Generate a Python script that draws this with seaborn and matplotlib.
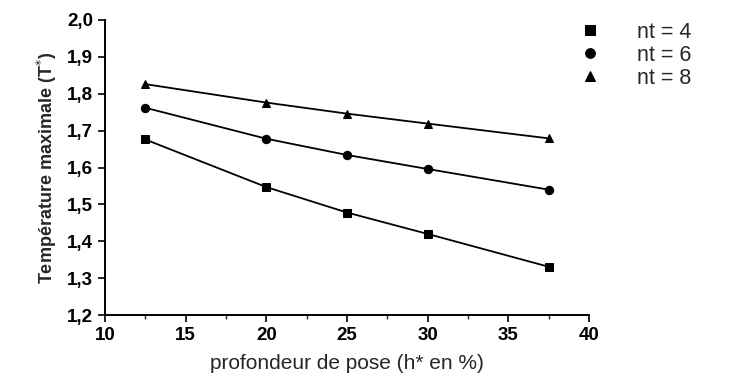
import matplotlib
matplotlib.use("Agg")
import matplotlib.pyplot as plt
from matplotlib.ticker import MultipleLocator, FuncFormatter
import seaborn as sns
import pandas as pd

depth = [12.5, 20, 25, 30, 37.5]
nt4 = [1.676, 1.547, 1.478, 1.420, 1.331]
nt6 = [1.762, 1.678, 1.634, 1.596, 1.540]
nt8 = [1.826, 1.776, 1.746, 1.719, 1.679]
labels = ["nt = 4", "nt = 6", "nt = 8"]

rows = []
for lab, vals in zip(labels, [nt4, nt6, nt8]):
    for x, y in zip(depth, vals):
        rows.append({"h": x, "T": y, "nt": lab})
df = pd.DataFrame(rows)

sns.set_style("ticks")
plt.rcParams["font.family"] = ["Liberation Sans", "DejaVu Sans"]

fig = plt.figure(figsize=(7.39, 3.76), dpi=100)
ax = fig.add_axes([0.142, 0.162, 0.655, 0.785])

sns.lineplot(data=df, x="h", y="T", style="nt", markers={"nt = 4": "s", "nt = 6": "o", "nt = 8": "^"},
             dashes=False, color="black", linewidth=1.3, markersize=6, markeredgecolor="black",
             ax=ax, legend=True)

ax.set_xlim(10, 40)
ax.set_ylim(1.2, 2.0)
ax.xaxis.set_major_locator(MultipleLocator(5))
ax.xaxis.set_minor_locator(MultipleLocator(2.5))
ax.yaxis.set_major_locator(MultipleLocator(0.1))
ax.yaxis.set_major_formatter(FuncFormatter(lambda v, p: f"{v:.1f}".replace(".", ",")))
ax.tick_params(axis="both", which="major", direction="out", length=5, width=1.2, labelsize=13.5, colors="black")
ax.tick_params(axis="x", which="minor", direction="out", length=3, width=1.0)
for lab in ax.get_xticklabels() + ax.get_yticklabels():
    lab.set_fontweight("bold")
for s in ["top", "right"]:
    ax.spines[s].set_visible(False)
for s in ["left", "bottom"]:
    ax.spines[s].set_linewidth(1.4)
    ax.spines[s].set_color("black")

ax.set_xlabel("profondeur de pose (h* en %)", fontsize=15, labelpad=7)
ax.set_ylabel("Température maximale (T$^{*}$)", fontsize=13, labelpad=6, fontweight="bold")

leg = ax.legend(loc="upper left", bbox_to_anchor=(0.945, 1.06), frameon=False, fontsize=15.5,
                handlelength=0.8, handletextpad=1.75, labelspacing=0.1, title=None)
for h in leg.legend_handles:
    h.set_linestyle("None")
    h.set_markersize(7)

fig.savefig("out.png", dpi=100)
